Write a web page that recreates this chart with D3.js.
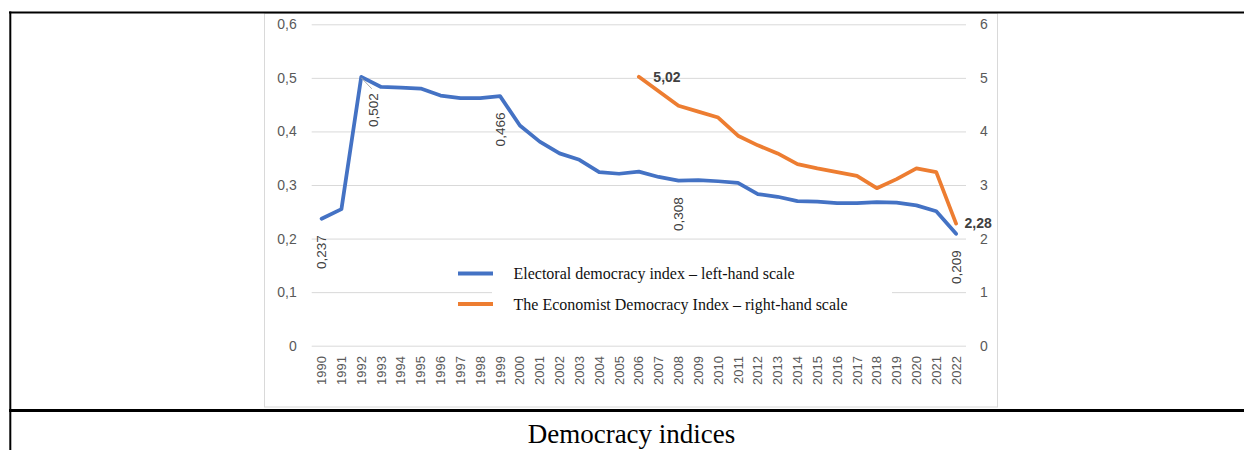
<!DOCTYPE html>
<html>
<head>
<meta charset="utf-8">
<script src="https://cdn.jsdelivr.net/npm/d3@7/dist/d3.min.js"></script>
<style>
  html, body { margin: 0; padding: 0; background: #fff; }
  svg { display: block; }
</style>
</head>
<body>
<svg id="chart" width="1244" height="450"></svg>
<script>
// ---- Data -------------------------------------------------------------
const years = [1990, 1991, 1992, 1993, 1994, 1995, 1996, 1997, 1998, 1999,
  2000, 2001, 2002, 2003, 2004, 2005, 2006, 2007, 2008, 2009, 2010, 2011,
  2012, 2013, 2014, 2015, 2016, 2017, 2018, 2019, 2020, 2021, 2022];

// Electoral democracy index (left-hand scale), one value per year above
const electoralIndex = [0.237, 0.255, 0.502, 0.483, 0.482, 0.480, 0.467, 0.462,
  0.462, 0.466, 0.411, 0.381, 0.359, 0.347, 0.324, 0.321, 0.325, 0.315, 0.308,
  0.309, 0.307, 0.304, 0.283, 0.278, 0.270, 0.269, 0.266, 0.266, 0.268, 0.267,
  0.262, 0.251, 0.209];

// The Economist Democracy Index (right-hand scale)
const economistYears = [2006, 2007, 2008, 2009, 2010, 2011, 2012, 2013, 2014,
  2015, 2016, 2017, 2018, 2019, 2020, 2021, 2022];
const economistIndex = [5.02, 4.75, 4.48, 4.37, 4.26, 3.92, 3.74, 3.59, 3.39,
  3.31, 3.24, 3.17, 2.94, 3.11, 3.31, 3.24, 2.28];

// Years whose values are printed next to the line
const electoralLabelYears = [1990, 1992, 1999, 2008, 2022];
const economistLabelYears = [2006, 2022];

const leftTicks = [0, 0.1, 0.2, 0.3, 0.4, 0.5, 0.6];
const rightTicks = [0, 1, 2, 3, 4, 5, 6];

const seriesNames = [
  "Electoral democracy index \u2013 left-hand scale",
  "The Economist Democracy Index \u2013 right-hand scale"
];
const caption = "Democracy indices";

// ---- Styling ----------------------------------------------------------
const BLUE = "#4472C4", ORANGE = "#ED7D31";
const GRID = "#d9d9d9", AXIS_TEXT = "#595959", LABEL_TEXT = "#404040";
const SANS = "'Liberation Sans', Arial, sans-serif";
const SERIF = "'Liberation Serif', 'Times New Roman', serif";

const plot = { left: 311.7, right: 966, top: 24.3, bottom: 345.7 };

const comma = d3.formatLocale({ decimal: ",", thousands: " ", grouping: [3], currency: ["", ""] });
const fmtTick = comma.format(".1~f");
const fmtInt = comma.format("d");
const fmt3 = comma.format(".3f");
const fmt2 = comma.format(".2f");

const svg = d3.select("#chart");

// ---- Scales -----------------------------------------------------------
const x = d3.scaleBand().domain(years).range([plot.left, plot.right]).padding(0);
const cx = yr => x(yr) + x.bandwidth() / 2;
const yL = d3.scaleLinear().domain([0, 0.6]).range([plot.bottom, plot.top]);
const yR = d3.scaleLinear().domain([0, 6]).range([plot.bottom, plot.top]);

// ---- Chart area border ------------------------------------------------
svg.append("rect").attr("x", 264.5).attr("y", 13.5).attr("width", 733).attr("height", 393.5)
  .attr("fill", "#fff").attr("stroke", GRID).attr("stroke-width", 1);

// ---- Axes & gridlines ---------------------------------------------------
const gLeft = svg.append("g").attr("transform", `translate(${plot.left},0)`)
  .call(d3.axisLeft(yL).tickValues(leftTicks).tickFormat(fmtTick)
    .tickSize(-(plot.right - plot.left)).tickPadding(15));
gLeft.select(".domain").remove();
gLeft.selectAll(".tick line").attr("stroke", GRID).attr("stroke-width", 1);
gLeft.selectAll(".tick text").attr("fill", AXIS_TEXT)
  .style("font-family", SANS).style("font-size", "14px");

const gRight = svg.append("g").attr("transform", `translate(${plot.right},0)`)
  .call(d3.axisRight(yR).tickValues(rightTicks).tickFormat(fmtInt).tickSize(0).tickPadding(14));
gRight.select(".domain").remove();
gRight.selectAll(".tick text").attr("fill", AXIS_TEXT)
  .style("font-family", SANS).style("font-size", "14px");

const gBottom = svg.append("g").attr("transform", `translate(0,${plot.bottom})`)
  .call(d3.axisBottom(x).tickSize(0));
gBottom.select(".domain").remove();
gBottom.selectAll(".tick text")
  .attr("transform", "rotate(-90)")
  .attr("text-anchor", "end")
  .attr("x", -10.3).attr("y", 0).attr("dy", "0.35em")
  .attr("fill", AXIS_TEXT)
  .style("font-family", SANS).style("font-size", "13px");

// ---- Legend (its white box hides part of the 0,1 gridline) -------------
svg.append("rect").attr("x", 492).attr("y", 255).attr("width", 400).attr("height", 65).attr("fill", "#fff");

const legend = svg.append("g");
const legendItems = [
  { name: seriesNames[0], color: BLUE },
  { name: seriesNames[1], color: ORANGE }
];
legend.selectAll("g").data(legendItems).join("g")
  .attr("transform", (d, i) => `translate(458,${273.5 + i * 30.5})`)
  .each(function (d) {
    const g = d3.select(this);
    g.append("line").attr("x1", 0).attr("x2", 35).attr("y1", 0).attr("y2", 0)
      .attr("stroke", d.color).attr("stroke-width", 4);
    g.append("text").attr("x", 55.5).attr("y", 5.5).text(d.name)
      .attr("fill", "#111").style("font-family", SERIF).style("font-size", "16px");
  });

// ---- Lines ------------------------------------------------------------
const electoral = years.map((yr, i) => ({ year: yr, value: electoralIndex[i] }));
const economist = economistYears.map((yr, i) => ({ year: yr, value: economistIndex[i] }));

svg.append("path").datum(electoral)
  .attr("fill", "none").attr("stroke", BLUE).attr("stroke-width", 3.75)
  .attr("stroke-linejoin", "round").attr("stroke-linecap", "round")
  .attr("d", d3.line().x(d => cx(d.year)).y(d => yL(d.value)));

svg.append("path").datum(economist)
  .attr("fill", "none").attr("stroke", ORANGE).attr("stroke-width", 3.75)
  .attr("stroke-linejoin", "round").attr("stroke-linecap", "round")
  .attr("d", d3.line().x(d => cx(d.year)).y(d => yR(d.value)));

// ---- Data labels --------------------------------------------------------
// Electoral index: vertical labels under the point; the 1992 label is nudged
// right and joined to its point with a leader line.
const electoralLabels = electoral.filter(d => electoralLabelYears.includes(d.year))
  .map(d => ({ ...d, dx: d.year === 1992 ? 12 : 0 }));

svg.selectAll(".leader").data(electoralLabels.filter(d => d.dx !== 0)).join("line")
  .attr("class", "leader")
  .attr("x1", d => cx(d.year)).attr("y1", d => yL(d.value) + 1)
  .attr("x2", d => cx(d.year) + d.dx - 1.5).attr("y2", d => yL(d.value) + 12)
  .attr("stroke", "#a6a6a6").attr("stroke-width", 1);

svg.selectAll(".elabel").data(electoralLabels).join("text")
  .attr("class", "elabel")
  .attr("transform", d => `translate(${cx(d.year) + d.dx},${yL(d.value)}) rotate(-90)`)
  .attr("x", -16.5).attr("dy", "0.35em").attr("text-anchor", "end")
  .attr("fill", LABEL_TEXT).style("font-family", SANS).style("font-size", "13.5px")
  .text(d => fmt3(d.value));

// Economist index: bold labels to the right of the point
const economistLabels = economist.filter(d => economistLabelYears.includes(d.year))
  .map(d => ({ ...d, dx: d.year === 2006 ? 14.5 : 8.5 }));

svg.selectAll(".olabel").data(economistLabels).join("text")
  .attr("class", "olabel")
  .attr("x", d => cx(d.year) + d.dx).attr("y", d => yR(d.value))
  .attr("dy", "0.35em")
  .attr("fill", LABEL_TEXT).style("font-family", SANS).style("font-size", "14px")
  .style("font-weight", "bold")
  .text(d => fmt2(d.value));

// ---- Table rules ------------------------------------------------------
svg.append("rect").attr("x", 9).attr("y", 11.5).attr("width", 1235).attr("height", 2).attr("fill", "#000");
svg.append("rect").attr("x", 9.3).attr("y", 11.5).attr("width", 2).attr("height", 438.5).attr("fill", "#000");
svg.append("rect").attr("x", 9).attr("y", 409).attr("width", 1235).attr("height", 3).attr("fill", "#000");

// ---- Caption ----------------------------------------------------------
svg.append("text").attr("x", 631.5).attr("y", 442.5).attr("text-anchor", "middle")
  .attr("fill", "#000").style("font-family", SERIF).style("font-size", "27px")
  .text(caption);
</script>
</body>
</html>
